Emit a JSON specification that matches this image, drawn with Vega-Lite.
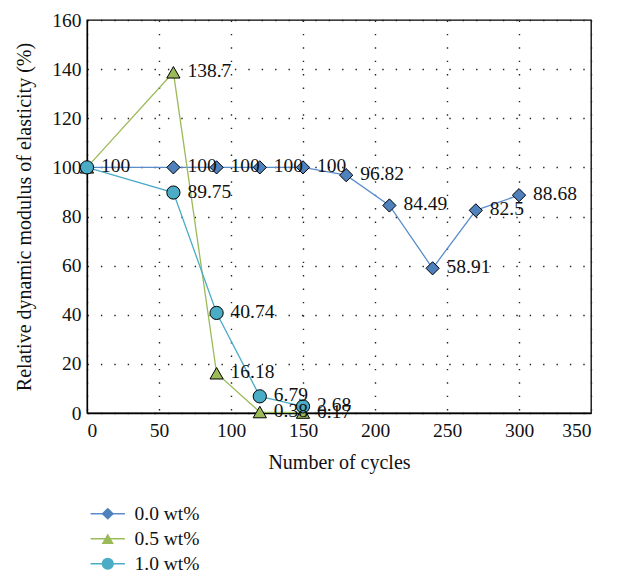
{
  "$schema": "https://vega.github.io/schema/vega-lite/v6.json",
  "width": 504,
  "height": 393,
  "autosize": {"type": "none"},
  "padding": {"left": 87, "top": 20, "right": 28, "bottom": 163},
  "background": "white",
  "config": {
    "font": "Liberation Serif",
    "view": {"stroke": "#000", "strokeWidth": 1.3},
    "axis": {
      "labelFont": "Liberation Serif",
      "titleFont": "Liberation Serif",
      "labelFontSize": 19.5,
      "titleFontSize": 20,
      "titleFontWeight": "normal",
      "labelColor": "#111",
      "titleColor": "#111",
      "ticks": false,
      "domainColor": "#000",
      "domainWidth": 1.3,
      "gridColor": "#222",
      "gridWidth": 1.4,
      "gridDash": [1.4, 12]
    },
    "legend": {
      "labelFont": "Liberation Serif",
      "labelFontSize": 19.5,
      "labelColor": "#111"
    }
  },
  "data": {
    "values": [
      {"series": "0.0 wt%", "cycles": 0, "value": 100},
      {"series": "0.0 wt%", "cycles": 60, "value": 100},
      {"series": "0.0 wt%", "cycles": 90, "value": 100},
      {"series": "0.0 wt%", "cycles": 120, "value": 100},
      {"series": "0.0 wt%", "cycles": 150, "value": 100},
      {"series": "0.0 wt%", "cycles": 180, "value": 96.82},
      {"series": "0.0 wt%", "cycles": 210, "value": 84.49},
      {"series": "0.0 wt%", "cycles": 240, "value": 58.91},
      {"series": "0.0 wt%", "cycles": 270, "value": 82.5},
      {"series": "0.0 wt%", "cycles": 300, "value": 88.68},
      {"series": "0.5 wt%", "cycles": 0, "value": 100},
      {"series": "0.5 wt%", "cycles": 60, "value": 138.7},
      {"series": "0.5 wt%", "cycles": 90, "value": 16.18},
      {"series": "0.5 wt%", "cycles": 120, "value": 0.38},
      {"series": "0.5 wt%", "cycles": 150, "value": 0.17},
      {"series": "1.0 wt%", "cycles": 0, "value": 100},
      {"series": "1.0 wt%", "cycles": 60, "value": 89.75},
      {"series": "1.0 wt%", "cycles": 90, "value": 40.74},
      {"series": "1.0 wt%", "cycles": 120, "value": 6.79},
      {"series": "1.0 wt%", "cycles": 150, "value": 2.68}
    ]
  },
  "encoding": {
    "x": {
      "field": "cycles",
      "type": "quantitative",
      "scale": {"domain": [0, 350], "nice": false},
      "axis": {"title": "Number of cycles", "values": [0, 50, 100, 150, 200, 250, 300, 350], "labelPadding": 8, "titlePadding": 13}
    },
    "y": {
      "field": "value",
      "type": "quantitative",
      "scale": {"domain": [0, 160], "nice": false},
      "axis": {"title": "Relative dynamic modulus of elasticity (%)", "values": [0, 20, 40, 60, 80, 100, 120, 140, 160], "labelPadding": 6, "titlePadding": 17}
    }
  },
  "layer": [
    {
      "mark": {"type": "line", "strokeWidth": 1.3},
      "encoding": {
        "stroke": {
          "field": "series",
          "type": "nominal",
          "scale": {"domain": ["0.0 wt%", "0.5 wt%", "1.0 wt%"], "range": ["#5a8ccc", "#9bbb59", "#4bacc6"]},
          "legend": {
            "title": null,
            "orient": "none",
            "legendX": 11,
            "legendY": 484,
            "symbolType": "M-2.8,0H2.8",
            "symbolSize": 150,
            "symbolStrokeWidth": 1.5,
            "labelOffset": 17,
            "rowPadding": 4
          }
        }
      }
    },
    {
      "mark": {"type": "point", "filled": true, "size": 175, "stroke": "#000", "strokeWidth": 1, "opacity": 1},
      "encoding": {
        "fill": {
          "field": "series",
          "type": "nominal",
          "scale": {"range": ["#4f81bd", "#9bbb59", "#4bacc6"]},
          "legend": {
            "title": null,
            "orient": "none",
            "legendX": 11,
            "legendY": 484,
            "symbolSize": 150,
            "symbolStrokeColor": "#000",
            "symbolStrokeWidth": 1,
            "symbolOpacity": 1,
            "labelOpacity": 0,
            "labelOffset": 17,
            "rowPadding": 4
          }
        },
        "shape": {
          "field": "series",
          "type": "nominal",
          "scale": {"range": ["diamond", "triangle-up", "circle"]},
          "legend": {
            "title": null,
            "orient": "none",
            "legendX": 11,
            "legendY": 484,
            "symbolSize": 150,
            "symbolStrokeColor": "#000",
            "symbolStrokeWidth": 1,
            "labelOpacity": 0,
            "labelOffset": 17,
            "rowPadding": 4
          }
        }
      }
    },
    {
      "transform": [{"filter": "datum.series == '0.0 wt%' || datum.cycles > 0"}],
      "mark": {"type": "text", "align": "left", "baseline": "middle", "dx": 14, "dy": -1, "fontSize": 19.5, "font": "Liberation Serif", "color": "#111"},
      "encoding": {
        "text": {"field": "value", "type": "quantitative"}
      }
    }
  ]
}
